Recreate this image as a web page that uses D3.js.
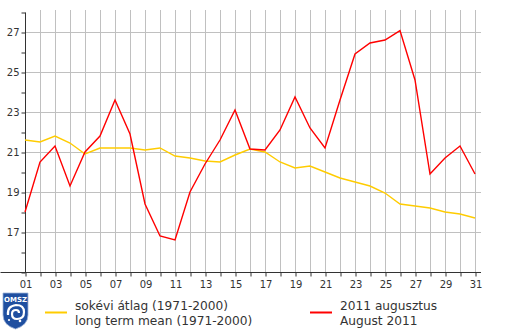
<!DOCTYPE html>
<html>
<head>
<meta charset="utf-8">
<script src="https://cdn.jsdelivr.net/npm/d3@7"></script>
<style>
html,body{margin:0;padding:0;background:#fff;}
svg{display:block;}
text{font-family:"DejaVu Sans",Verdana,sans-serif;fill:#333;}
</style>
</head>
<body>
<svg id="chart" width="505" height="332"></svg>
<script>
const days = d3.range(1, 32);
const meanValues = [21.6,21.5,21.8,21.45,20.9,21.2,21.2,21.2,21.1,21.2,20.8,20.7,20.55,20.5,20.85,21.15,21.0,20.5,20.2,20.3,20.0,19.7,19.5,19.3,18.95,18.4,18.3,18.2,18.0,17.9,17.7];
const augValues = [18.0,20.5,21.3,19.3,21.0,21.8,23.6,21.9,18.4,16.8,16.6,19.0,20.4,21.6,23.1,21.15,21.1,22.1,23.75,22.2,21.2,23.6,25.9,26.45,26.6,27.07,24.6,19.9,20.7,21.3,19.9];
const xTickLabels = [1,3,5,7,9,11,13,15,17,19,21,23,25,27,29,31];
const yTickLabels = [17,19,21,23,25,27];
const legendLabels = [
  ["sokévi átlag (1971-2000)", "long term mean (1971-2000)"],
  ["2011 augusztus", "August 2011"]
];
const seriesColors = ["#ffcc00", "#ff0000"];

const svg = d3.select("#chart");
const x = d3.scaleLinear().domain([1, 31]).range([25, 475]);
const y = d3.scaleLinear().domain([15, 28]).range([272, 12]);
const xRight = 481;

// grid
const grid = svg.append("g").attr("stroke", "#c0c0c0").attr("stroke-width", 1);
grid.selectAll("line.v").data(days.slice(1)).join("line")
  .attr("x1", d => x(d) + 0.5).attr("x2", d => x(d) + 0.5)
  .attr("y1", 10).attr("y2", 272);
grid.selectAll("line.h").data(yTickLabels).join("line")
  .attr("x1", 25).attr("x2", xRight)
  .attr("y1", d => y(d) + 0.5).attr("y2", d => y(d) + 0.5);

// axes
const axisColor = "#333";
const xAxis = svg.append("g").attr("transform", "translate(0.5,272.5)")
  .call(d3.axisBottom(x).tickValues(days).tickSize(4).tickFormat(d => xTickLabels.includes(d) ? d3.format("02d")(d) : ""));
xAxis.select(".domain").attr("d", `M0,0H${xRight - 0.5}`);
const yAxis = svg.append("g").attr("transform", "translate(25.5,0.5)")
  .call(d3.axisLeft(y).tickValues(d3.range(15, 29)).tickSize(4).tickFormat(d => yTickLabels.includes(d) ? d : ""));
yAxis.select(".domain").attr("d", `M0,${y(28)}V${y(15)}`);
[xAxis, yAxis].forEach(a => {
  a.selectAll(".domain, .tick line").attr("stroke", axisColor);
  a.selectAll("text").attr("fill", "#333").attr("font-family", "DejaVu Sans").attr("font-size", 10);
});
xAxis.selectAll("text").attr("dy", "0.71em").attr("y", 8);
yAxis.selectAll("text").attr("x", -6);

// lines
const line = d3.line().x((d, i) => x(days[i])).y(d => y(d));
svg.append("path").datum(meanValues).attr("fill", "none")
  .attr("stroke", seriesColors[0]).attr("stroke-width", 1.4).attr("d", line);
svg.append("path").datum(augValues).attr("fill", "none")
  .attr("stroke", seriesColors[1]).attr("stroke-width", 1.4).attr("d", line);

// legend
const legendX = [45, 310];
legendLabels.forEach((lbl, i) => {
  const g = svg.append("g").attr("transform", `translate(${legendX[i]},0)`);
  g.append("line").attr("x1", 0).attr("x2", 22).attr("y1", 312.5).attr("y2", 312.5)
    .attr("stroke", seriesColors[i]).attr("stroke-width", 2);
  g.append("text").attr("x", 30).attr("y", 310).attr("font-size", 12.2).text(lbl[0]);
  g.append("text").attr("x", 30).attr("y", 324.5).attr("font-size", 12.2).text(lbl[1]);
});

// logo
const logo = svg.append("g").attr("transform", "translate(3,293)");
logo.append("path")
  .attr("d", "M0,0 H25 V22 Q25,32 12.5,36 Q0,32 0,22 Z")
  .attr("fill", "#1f4fa0").attr("stroke", "#9db3d8").attr("stroke-width", 0.8);
logo.append("text").attr("x", 12.5).attr("y", 8.5).attr("text-anchor", "middle")
  .attr("font-size", 7).attr("font-weight", "bold").style("fill", "#fff").text("OMSZ");
logo.append("path")
  .attr("d", "M5,22 Q4,13 13,12 Q21,12 21,19 Q21,26 14,26 Q9,26 9,21 Q9,17 13,17 Q16,17 16,20")
  .attr("fill", "none").attr("stroke", "#fff").attr("stroke-width", 2.2);
logo.append("circle").attr("cx", 17).attr("cy", 28).attr("r", 1.3).attr("fill", "#fff");
logo.append("circle").attr("cx", 6).attr("cy", 27).attr("r", 1.1).attr("fill", "#fff");
</script>
</body>
</html>
